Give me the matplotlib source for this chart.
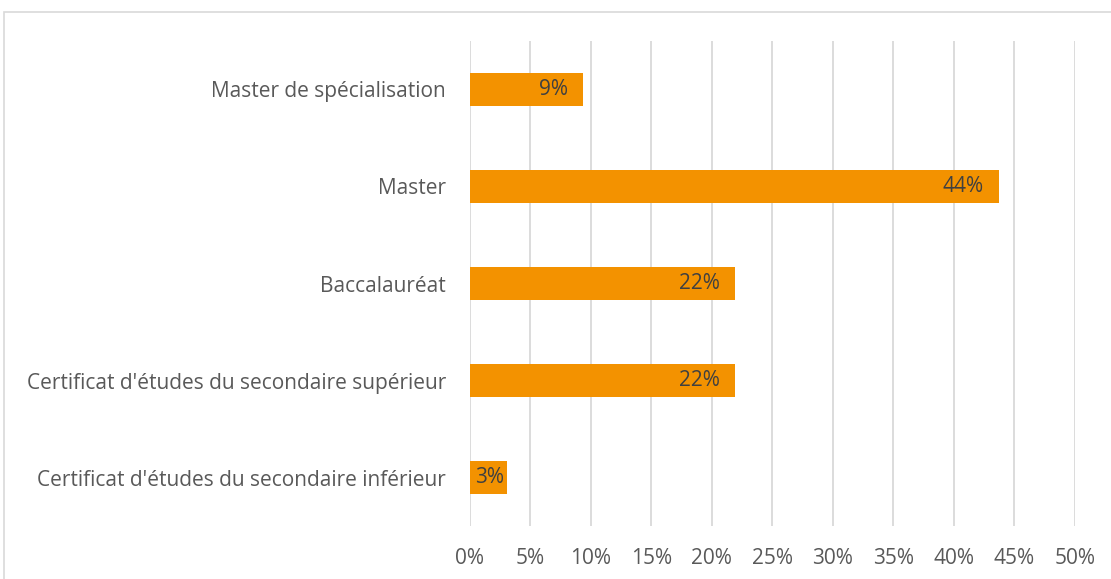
import matplotlib
matplotlib.use("Agg")
import matplotlib.pyplot as plt
from matplotlib.patches import Rectangle

categories = ["Certificat d'études du secondaire inférieur",
              "Certificat d'études du secondaire supérieur",
              "Baccalauréat",
              "Master",
              "Master de spécialisation"]
values = [3.1, 21.9, 21.9, 43.7, 9.4]
labels = ["3%", "22%", "22%", "44%", "9%"]
xticks = [0, 5, 10, 15, 20, 25, 30, 35, 40, 45, 50]

plt.rcParams['font.family'] = ['Open Sans', 'DejaVu Sans']

W, H = 1111, 579
fig = plt.figure(figsize=(W/100, H/100), dpi=100)
fig.patches.append(Rectangle((4/W, -0.2), 1.2, (H-12)/H + 0.2, transform=fig.transFigure,
                             fill=False, edgecolor='#d9d9d9', linewidth=1.2))
ax = fig.add_axes([469.5/W, 1-526/H, (1075-469.5)/W, (526-41)/H])

y = list(range(len(categories)))
ax.barh(y, values, height=0.35, color='#F39200', zorder=2)
for yi, v, lab in zip(y, values, labels):
    if v < 5:
        ax.annotate(lab, (0, yi), xytext=(4, 0), textcoords='offset points',
                    ha='left', va='center', fontsize=15, color='#404040', zorder=3)
    else:
        ax.annotate(lab, (v, yi), xytext=(-11, 0), textcoords='offset points',
                    ha='right', va='center', fontsize=15, color='#404040', zorder=3)

ax.set_xlim(0, 50)
ax.set_ylim(-0.5, len(categories) - 0.5)
ax.set_xticks(xticks)
ax.set_xticklabels([f"{t}%" for t in xticks])
ax.set_yticks(y)
ax.set_yticklabels(categories)
ax.tick_params(axis='both', length=0, labelsize=15, colors='#595959')
ax.tick_params(axis='y', pad=17)
ax.tick_params(axis='x', pad=16)
ax.grid(axis='x', color='#d9d9d9', linewidth=1.3, zorder=0)
for s in ax.spines.values():
    s.set_visible(False)

fig.savefig("out.png", dpi=100)
